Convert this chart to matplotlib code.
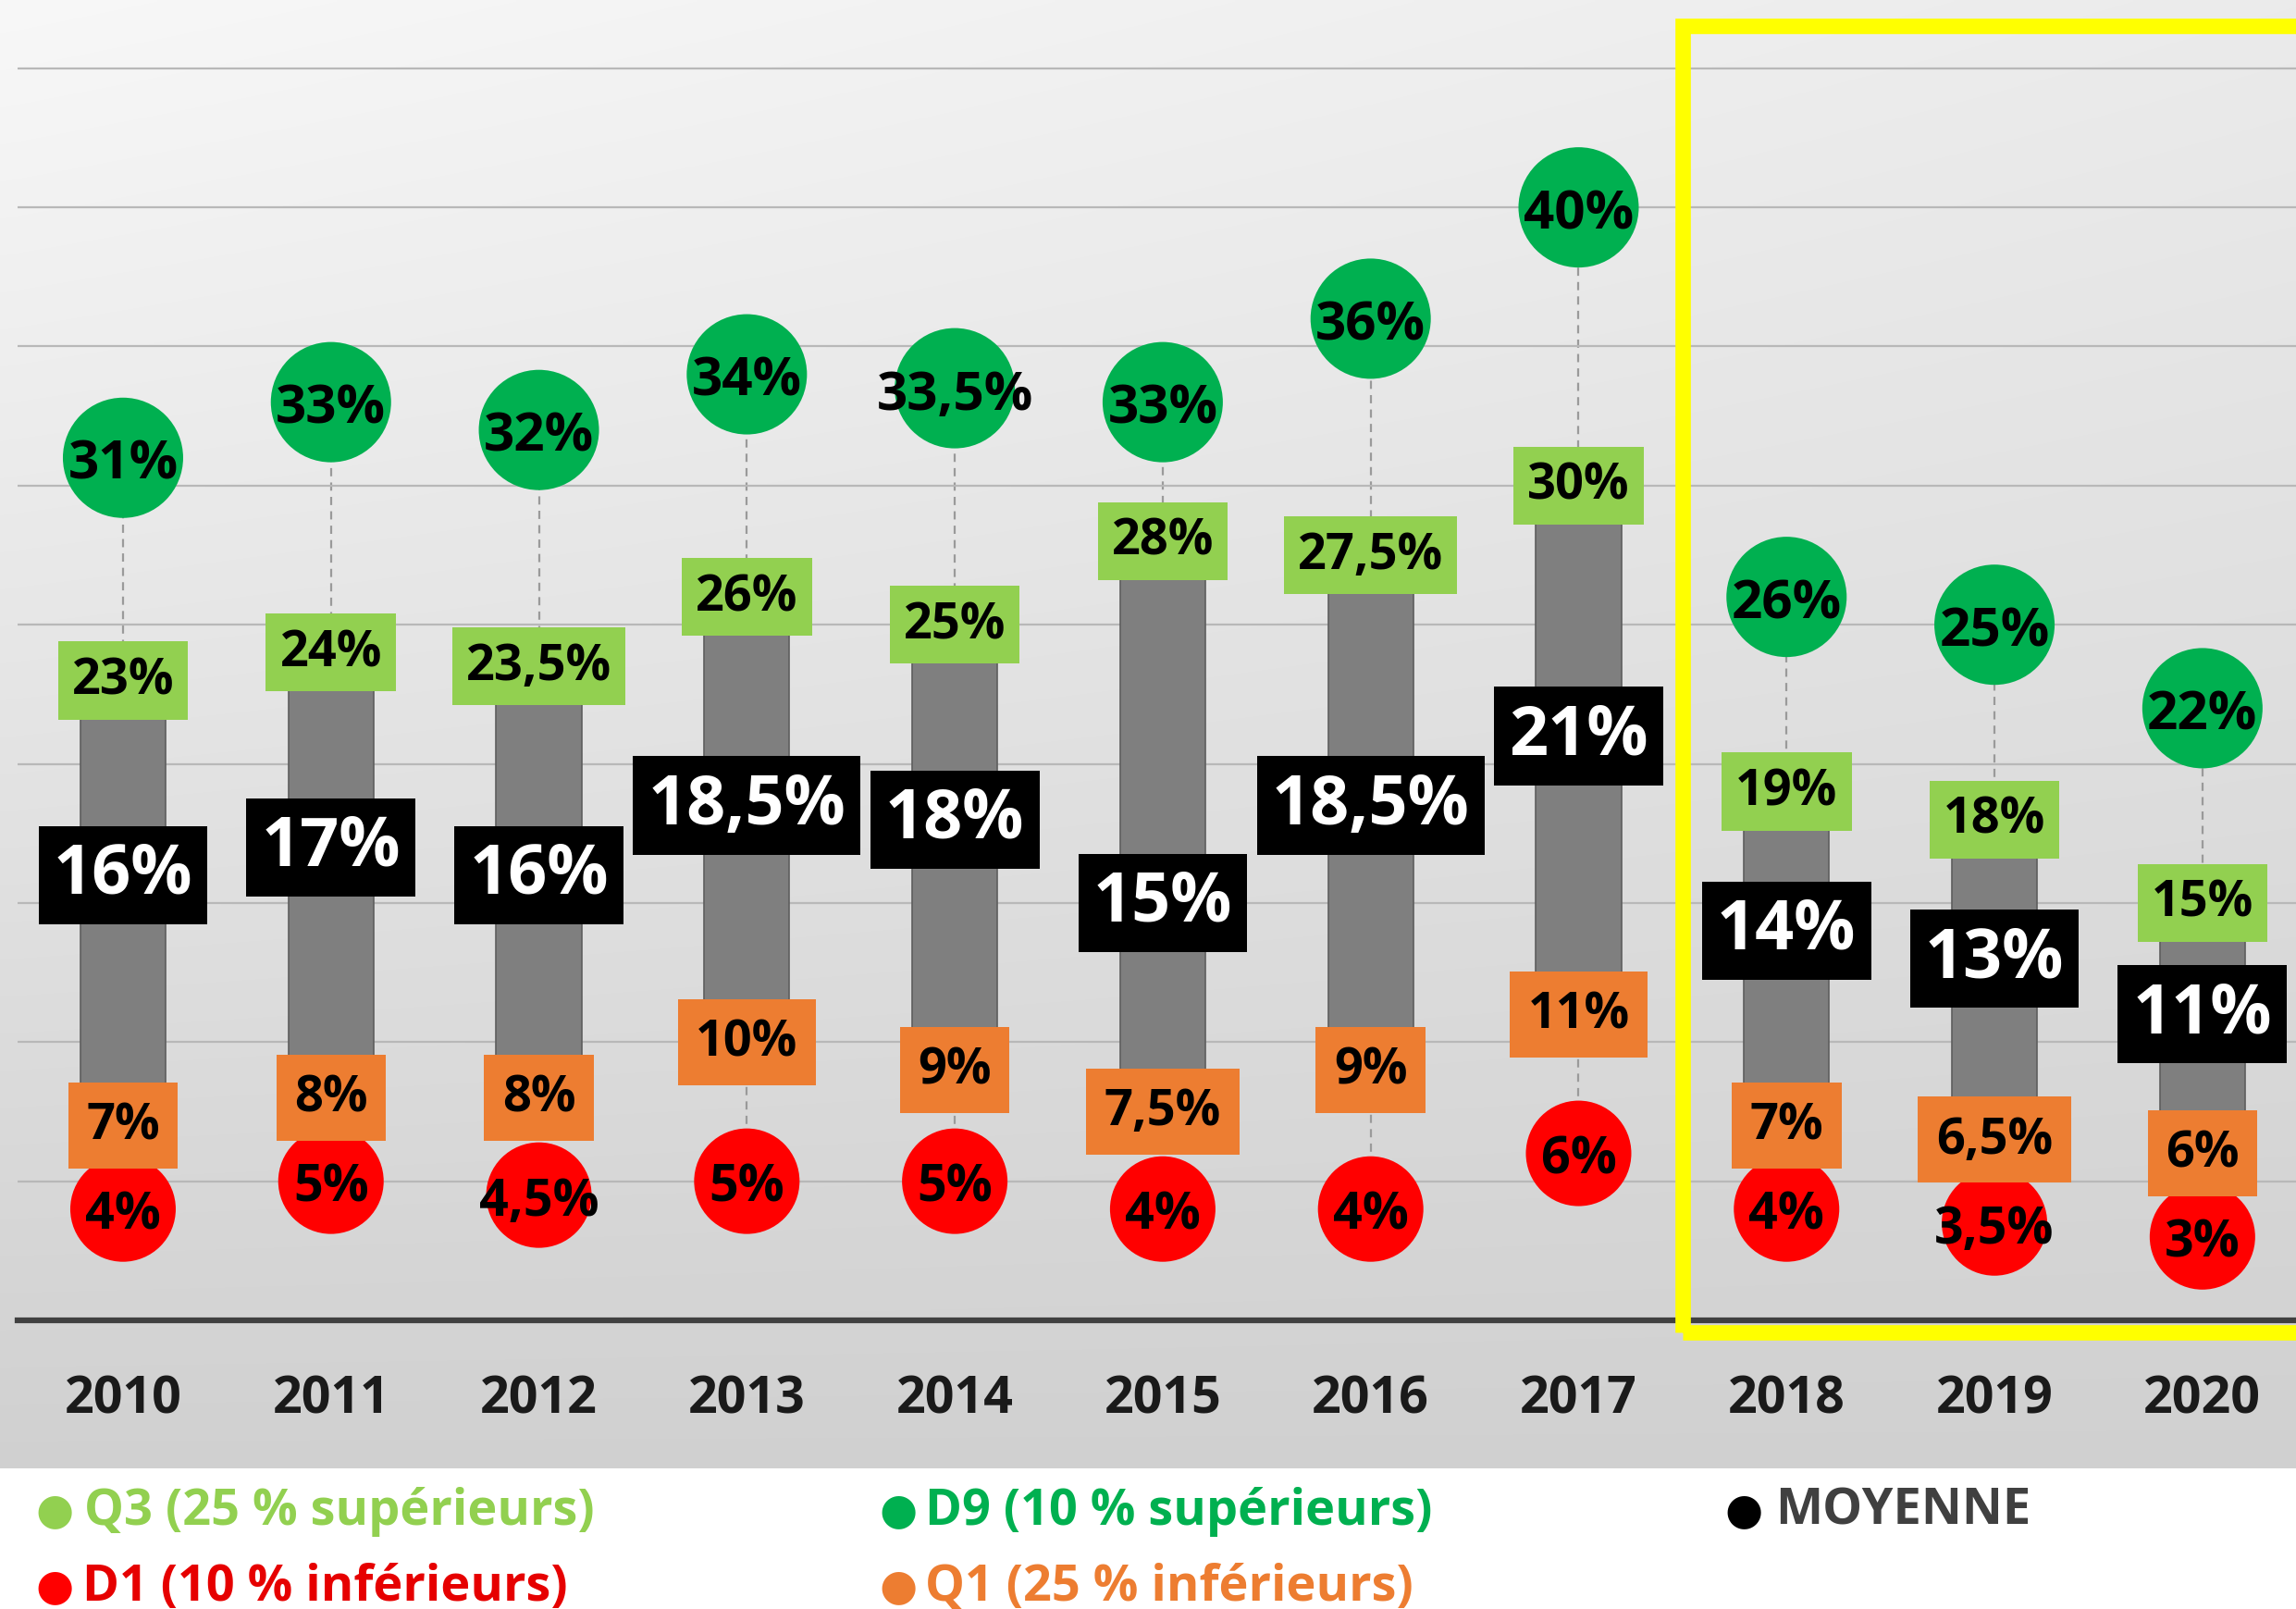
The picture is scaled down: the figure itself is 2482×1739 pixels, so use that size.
import numpy as np
import matplotlib
matplotlib.use("Agg")
import matplotlib.pyplot as plt
from matplotlib.patches import Rectangle

# ---------------- data ----------------
years = ["2010", "2011", "2012", "2013", "2014", "2015", "2016", "2017", "2018", "2019", "2020"]
d9 = [31, 33, 32, 34, 33.5, 33, 36, 40, 26, 25, 22]          # 10 % supérieurs
q3 = [23, 24, 23.5, 26, 25, 28, 27.5, 30, 19, 18, 15]        # 25 % supérieurs
moyenne = [16, 17, 16, 18.5, 18, 15, 18.5, 21, 14, 13, 11]   # moyenne
q1 = [7, 8, 8, 10, 9, 7.5, 9, 11, 7, 6.5, 6]                 # 25 % inférieurs
d1 = [4, 5, 4.5, 5, 5, 4, 4, 6, 4, 3.5, 3]                   # 10 % inférieurs

legend_labels = ["Q3 (25 % supérieurs)", "D9 (10 % supérieurs)", "MOYENNE",
                 "D1 (10 % inférieurs)", "Q1 (25 % inférieurs)"]

# ---------------- style ----------------
C_D9 = "#00b050"
C_Q3 = "#92d050"
C_Q1 = "#ed7d31"
C_D1 = "#ff0000"
FONT = ["Open Sans", "DejaVu Sans"]
WT = "bold"

W, H = 2482, 1740
fig = plt.figure(figsize=(W / 100, H / 100), dpi=100, facecolor="white")

# background gradient (chart zone)
bg_h = 1588
bg = fig.add_axes([0, 1 - bg_h / H, 1, bg_h / H], zorder=-10)
ty = np.linspace(0, 1, 300)[:, None]
tx = np.linspace(0, 1, 400)[None, :]
val = 0.972 - 0.155 * ty - 0.05 * tx * (1 - ty)
img = np.dstack([val, val, val])
bg.imshow(img, aspect="auto", extent=[0, 1, 0, 1], interpolation="bilinear")
bg.axis("off")

# main axes
left_px, base_px = 19, 1428
ax = fig.add_axes([left_px / W, 1 - base_px / H, 1 - left_px / W, base_px / H])
ax.patch.set_alpha(0)
x = np.arange(len(years))
ax.set_xlim(-0.507, 10.45)
ax.set_ylim(0, 47.42 * base_px / 1426)

ax.set_yticks(np.arange(5, 50, 5))
ax.yaxis.grid(True, color="#b8b8b8", lw=1.6, zorder=0)
ax.tick_params(axis="y", length=0, labelleft=False)
for s in ["left", "right", "top"]:
    ax.spines[s].set_visible(False)
ax.spines["bottom"].set_color("#404040")
ax.spines["bottom"].set_linewidth(4.5)
ax.spines["bottom"].set_zorder(9)

ax.set_xticks(x)
ax.set_xticklabels(years, fontsize=40, fontweight="bold", family=FONT, color="#1a1a1a")
ax.tick_params(axis="x", length=0, pad=61)
for lab in ax.get_xticklabels():
    lab.set_va("center")

def fmt(v):
    s = f"{v:g}".replace(".", ",")
    return s + "%"

# dashed connector D1 -> D9
ax.vlines(x, d1, d9, colors="#9a9a9a", linestyles=(0, (4, 3)), lw=1.6, zorder=1.5)

# interquartile bar
ax.bar(x, np.array(q3) - np.array(q1), bottom=q1, width=0.41,
       color="#7f7f7f", edgecolor="#5e5e5e", lw=1.2, zorder=2)

# circles
ax.scatter(x, d1, s=(114 * 0.72) ** 2, color=C_D1, edgecolors="none", zorder=3)
ax.scatter(x, d9, s=(130 * 0.72) ** 2, color=C_D9, edgecolors="none", zorder=5)

for xi, v in zip(x, q1):
    ax.text(xi, v, fmt(v), ha="center", va="center", fontsize=39, fontweight=WT,
            family=FONT, color="black", zorder=4,
            bbox=dict(boxstyle="square,pad=0.36", fc=C_Q1, ec="none"))
for xi, v in zip(x, d1):
    ax.text(xi, v, fmt(v), ha="center", va="center_baseline", fontsize=40,
            fontweight=WT, family=FONT, color="black", zorder=6)
for xi, v in zip(x, q3):
    ax.text(xi, v, fmt(v), ha="center", va="center", fontsize=39, fontweight=WT,
            family=FONT, color="black", zorder=5,
            bbox=dict(boxstyle="square,pad=0.28", fc=C_Q3, ec="none"))
for xi, v in zip(x, d9):
    ax.text(xi, v, fmt(v), ha="center", va="center_baseline", fontsize=42,
            fontweight=WT, family=FONT, color="black", zorder=6)
for xi, v in zip(x, moyenne):
    ax.text(xi, v, fmt(v), ha="center", va="center", fontsize=53, fontweight=WT,
            family=FONT, color="white", zorder=7,
            bbox=dict(boxstyle="square,pad=0.22", fc="black", ec="none"))

# yellow highlight frame around 2018-2020
ax.add_patch(Rectangle((7.5, -0.43), 4.5, 46.95, fill=False, ec="#ffff00", lw=12,
                       joinstyle="miter", clip_on=False, zorder=10))

# legend
leg = [
    (38, 91, 1634, C_Q3, C_Q3, legend_labels[0]),
    (950, 1000, 1634, C_D9, C_D9, legend_labels[1]),
    (1864, 1919, 1634, "black", "#404040", legend_labels[2]),
    (38, 89, 1716, C_D1, "#e60000", legend_labels[3]),
    (950, 1000, 1716, C_Q1, C_Q1, legend_labels[4]),
]
for bx, tx_, py, bc, tc, lab in leg:
    fig.text(bx / W, 1 - py / H, "\u25CF", fontsize=34, color=bc, family="DejaVu Sans",
             ha="left", va="center")
    fig.text(tx_ / W, 1 - py / H, lab, fontsize=39, fontweight="bold",
             color=tc, family=FONT, ha="left", va="center")

fig.savefig("out.png", dpi=100, facecolor="white")
